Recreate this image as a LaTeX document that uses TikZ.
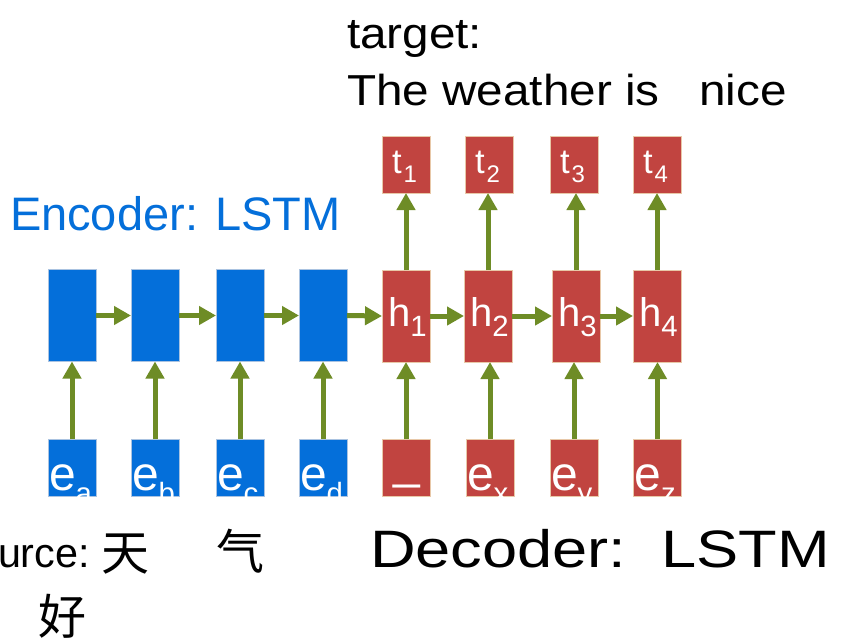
\documentclass[tikz,border=0pt]{standalone}
\usepackage{fontspec}
\setmainfont{Liberation Sans}
\newfontfamily\cjk{Noto Sans CJK SC}
\usetikzlibrary{arrows.meta}

\definecolor{encblue}{RGB}{4,111,218}
\definecolor{decred}{RGB}{193,68,64}
\definecolor{flowgreen}{RGB}{110,140,38}
\definecolor{encedge}{RGB}{170,195,225}
\definecolor{decedge}{RGB}{232,200,168}

% cell label: main letter with a lowered, smaller index
% #1 letter, #2 index, #3 drop, #4 index size
\newcommand\cellsub[4]{#1\raisebox{-#3}{\fontsize{#4}{#4}\selectfont #2}}

\begin{document}
\begin{tikzpicture}[x=0.75pt,y=-0.75pt,
  cell/.style={rectangle, inner sep=0pt, outer sep=0pt, line width=0.75pt, minimum width=36pt},
  enc/.style={cell, fill=encblue, draw=encedge},
  dec/.style={cell, fill=decred, draw=decedge},
  tall/.style={minimum height=69pt},
  short/.style={minimum height=42.75pt},
  flowarrow/.style={draw=flowgreen, line width=3.75pt, -{Triangle[length=12.75pt,width=13.5pt]}},
  lbl/.style={anchor=base west, inner sep=0pt, outer sep=0pt, text=white, font=\fontsize{30}{30}\selectfont},
  tlbl/.style={lbl, font=\fontsize{26}{26}\selectfont},
  elbl/.style={lbl, font=\fontsize{36}{36}\selectfont},
  caption/.style={anchor=base west, inner sep=0pt, outer sep=0pt},
]
\path[use as bounding box, clip] (0,0) rectangle (841,640);
\fill[white] (0,0) rectangle (841,640);

% encoder states
\node[enc, tall] (s1) at (72,315.5) {};
\node[enc, tall] (s2) at (155,315.5) {};
\node[enc, tall] (s3) at (240,315.5) {};
\node[enc, tall] (s4) at (323,315.5) {};

% decoder states
\node[dec, tall] (h1) at (406,316) {};
\node[dec, tall] (h2) at (488,316) {};
\node[dec, tall] (h3) at (576,316) {};
\node[dec, tall] (h4) at (657,316) {};

% decoder outputs
\node[dec, short] (t1) at (406,164.5) {};
\node[dec, short] (t2) at (489.5,164.5) {};
\node[dec, short] (t3) at (574,164.5) {};
\node[dec, short] (t4) at (657.5,164.5) {};

% input embeddings
\node[enc, short] (ea) at (72,467.5) {};
\node[enc, short] (eb) at (155,467.5) {};
\node[enc, short] (ec) at (240,467.5) {};
\node[enc, short] (ed) at (323,467.5) {};
\node[dec, short] (go) at (406,467.5) {};
\node[dec, short] (ex) at (490,467.5) {};
\node[dec, short] (ey) at (574,467.5) {};
\node[dec, short] (ez) at (657.5,467.5) {};

% recurrent links
\draw[flowarrow] (s1.east) -- (s2.west);
\draw[flowarrow] (s2.east) -- (s3.west);
\draw[flowarrow] (s3.east) -- (s4.west);
\draw[flowarrow] (s4.east) -- (h1.west);
\draw[flowarrow] (h1.east) -- (h2.west);
\draw[flowarrow] (h2.east) -- (h3.west);
\draw[flowarrow] (h3.east) -- (h4.west);

% inputs into states
\draw[flowarrow] (ea.north) -- (s1.south);
\draw[flowarrow] (eb.north) -- (s2.south);
\draw[flowarrow] (ec.north) -- (s3.south);
\draw[flowarrow] (ed.north) -- (s4.south);
\draw[flowarrow] (go.north) -- (h1.south);
\draw[flowarrow] (ex.north) -- (ex.north |- h2.south);
\draw[flowarrow] (ey.north) -- (ey.north |- h3.south);
\draw[flowarrow] (ez.north) -- (ez.north |- h4.south);

% states into outputs
\draw[flowarrow] (h1.north) -- (h1.north |- t1.south);
\draw[flowarrow] (h2.north) -- (h2.north |- t2.south);
\draw[flowarrow] (h3.north) -- (h3.north |- t3.south);
\draw[flowarrow] (h4.north) -- (h4.north |- t4.south);

% state labels
\node[lbl] (h1l) at (388,326) {\cellsub{h}{1}{7.5pt}{22}};
\node[lbl] (h2l) at (470,326) {\cellsub{h}{2}{7.5pt}{22}};
\node[lbl] (h3l) at (558,326) {\cellsub{h}{3}{7.5pt}{22}};
\node[lbl] (h4l) at (639,326) {\cellsub{h}{4}{7.5pt}{22}};

\node[tlbl] (t1l) at (392,173) {\cellsub{t\kern1.5pt}{1}{7pt}{18}};
\node[tlbl] (t2l) at (475,173) {\cellsub{t\kern1.5pt}{2}{7pt}{18}};
\node[tlbl] (t3l) at (560,173) {\cellsub{t\kern1.5pt}{3}{7pt}{18}};
\node[tlbl] (t4l) at (643,173) {\cellsub{t\kern1.5pt}{4}{7pt}{18}};

% embedding labels, cut off at the cell bottom
\begin{scope}
  \clip (0,439) rectangle (841,496);
  \node[elbl] (eal) at (49,490) {\cellsub{e}{a}{10pt}{22}};
  \node[elbl] (ebl) at (132,490) {\cellsub{e}{b}{10pt}{22}};
  \node[elbl] (ecl) at (217,490) {\cellsub{e}{c}{10pt}{22}};
  \node[elbl] (edl) at (300,490) {\cellsub{e}{d}{10pt}{22}};
  \node[elbl] (gol) at (393,478) {\_};
  \node[elbl] (exl) at (467,490) {\cellsub{e}{x}{10pt}{22}};
  \node[elbl] (eyl) at (551,490) {\cellsub{e}{y}{10pt}{22}};
  \node[elbl] (ezl) at (634.5,490) {\cellsub{e}{z}{10pt}{22}};
\end{scope}

% captions
\node[caption, text=encblue, font=\fontsize{35.25}{35.25}\selectfont] (enccap) at (10,230) {Encoder: LSTM};
\node[caption, font=\fontsize{32.5}{32.5}\selectfont] (tgtcap) at (347,48) {\scalebox{1.1}[1]{target:}};
\node[caption, font=\fontsize{32.5}{32.5}\selectfont] (tgttxt) at (347,105) {\scalebox{1.1}[1]{The weather is~~~nice}};
\node[caption, font=\fontsize{39.5}{39.5}\selectfont] (deccap) at (370,567) {\scalebox{1.2}[1]{Decoder:~~LSTM}};

\node[caption, font=\fontsize{31}{31}\selectfont] (srccap) at (-2,567) {urce:};
\node[caption, font=\cjk\fontsize{36}{36}\selectfont] (src1) at (101,570) {天};
\node[caption, font=\cjk\fontsize{36}{36}\selectfont] (src2) at (216,569) {气};
\node[caption, font=\cjk\fontsize{36}{36}\selectfont] (src3) at (38,634) {好};
\end{tikzpicture}
\end{document}
